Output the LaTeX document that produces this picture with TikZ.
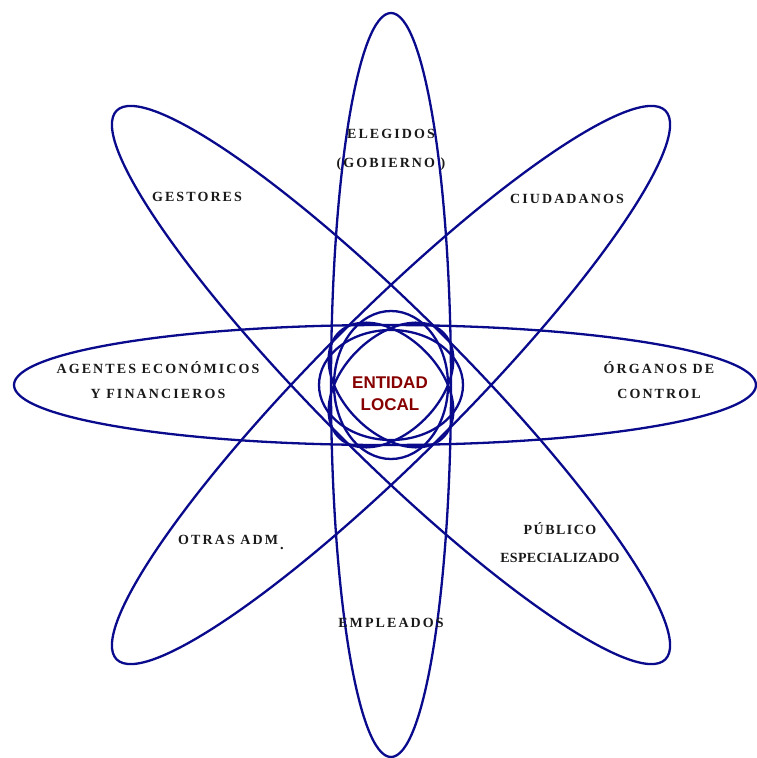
\documentclass[tikz,border=0pt]{standalone}
\usepackage{fontspec}
\setmainfont{Liberation Serif}
\newfontfamily\widelbl[LetterSpace=15]{Liberation Serif}
\newfontfamily\tightlbl[LetterSpace=2]{Liberation Serif}
\newfontfamily\centrefont{Liberation Sans}
\usetikzlibrary{calc}

\definecolor{orbitblue}{RGB}{10,10,140}
\definecolor{labelgray}{RGB}{25,25,25}
\definecolor{centrered}{RGB}{135,0,0}

\tikzset{
  orbit/.style={draw=orbitblue, line width=2.3pt},
  lbl/.style={text=labelgray, font=\widelbl\bfseries\fontsize{14}{17}\selectfont, inner sep=0pt, align=center},
  lbltight/.style={lbl, font=\tightlbl\bfseries\fontsize{14}{17}\selectfont},
  centrelbl/.style={text=centrered, font=\centrefont\bfseries\fontsize{17}{22}\selectfont, inner sep=0pt, align=center}
}

\begin{document}
\begin{tikzpicture}[x=1pt,y=-1pt]
  \useasboundingbox (0,0) rectangle (756,758);
  % Centre
  \coordinate (O) at (391,385);

  % Large orbits
  \draw[orbit] (O) ellipse [x radius=60, y radius=372];
  \draw[orbit] (385,385) ellipse [x radius=371, y radius=60];
  \draw[orbit, rotate around={-45:(O)}] (O) ellipse [x radius=388, y radius=72];
  \draw[orbit, rotate around={45:(O)}] (O) ellipse [x radius=388, y radius=72];

  % Small orbits round the centre
  \draw[orbit] (O) ellipse [x radius=72, y radius=55];
  \draw[orbit] (O) ellipse [x radius=57, y radius=74];
  \draw[orbit, rotate around={-45:(O)}] (O) ellipse [x radius=74, y radius=48];
  \draw[orbit, rotate around={45:(O)}] (O) ellipse [x radius=74, y radius=48];

  % Labels
  \node[centrelbl] (entidad) at (390,394) {ENTIDAD\\LOCAL};
  \node[lbl] (elegidos) at (391,150) {ELEGIDOS\\[12pt](GOBIERNO )};
  \node[lbl] (gestores) at (197,197) {GESTORES};
  \node[lbl] (ciudadanos) at (567,199) {CIUDADANOS};
  \node[lbl] (agentes) at (158,380) {AGENTES ECONÓMICOS\\[8pt]Y FINANCIEROS};
  \node[lbl] (organos) at (659,380) {ÓRGANOS DE\\[8pt]CONTROL};
  \node[lbl, anchor=west] (otras) at (178,542) {OTRAS ADM\kern2pt\raisebox{-5pt}{\Large .}};
  \node[lbltight] (publico) at (560,543) {P\kern1.5ptÚ\kern1.5ptB\kern1.5ptL\kern1.5ptI\kern1.5ptC\kern1.5ptO\\[11pt]ESPECIALIZADO};
  \node[lbl] (empleados) at (391,623) {EMPLEADOS};
\end{tikzpicture}
\end{document}
